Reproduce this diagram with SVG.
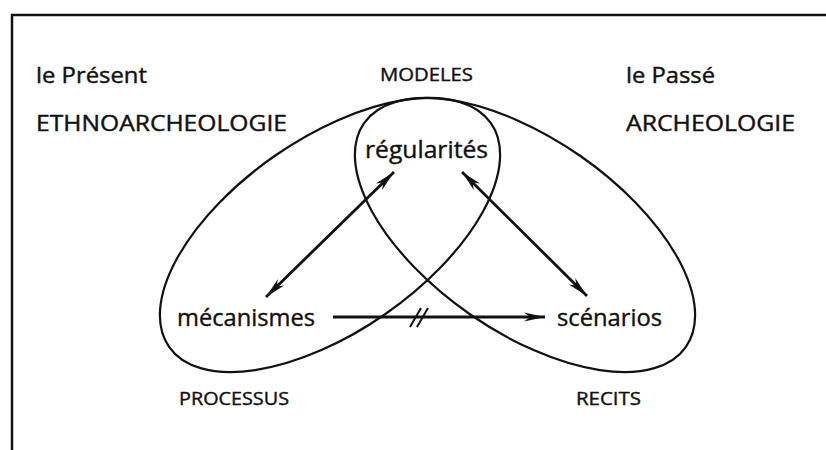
<svg xmlns="http://www.w3.org/2000/svg" width="826" height="450" viewBox="0 0 826 450">
<style>
  text { font-family: "Open Sans", "Noto Sans", sans-serif; fill: #111; stroke: #111; stroke-width: 0.4; }
  .big { font-size: 21px; }
  .node { font-size: 24px; }
  .small { font-size: 18.5px; }
  .ell { fill: none; stroke: #111; stroke-width: 2.2; }
  .arr { fill: none; stroke: #111; stroke-width: 2.8; }
</style>
<defs>
  <marker id="head" viewBox="-22 -5 24 10" refX="0" refY="0" markerWidth="24" markerHeight="10" markerUnits="userSpaceOnUse" orient="auto-start-reverse">
    <path d="M0,0 L-21,-4.5 L-15,0 L-21,4.5 Z" fill="#111"/>
  </marker>
</defs>
<rect x="0" y="0" width="826" height="450" fill="#fff"/>
<rect x="12" y="15" width="830" height="450" fill="none" stroke="#111" stroke-width="2.5"/>
<g id="labels">
  <text class="big" x="36" y="83" textLength="111" lengthAdjust="spacingAndGlyphs">le Présent</text>
  <text class="big" x="36" y="131" textLength="251" lengthAdjust="spacingAndGlyphs">ETHNOARCHEOLOGIE</text>
  <text class="big" x="626" y="83" textLength="89" lengthAdjust="spacingAndGlyphs">le Passé</text>
  <text class="big" x="626" y="131" textLength="169" lengthAdjust="spacingAndGlyphs">ARCHEOLOGIE</text>
  <text class="small" x="380" y="81" textLength="93" lengthAdjust="spacingAndGlyphs">MODELES</text>
  <text class="small" x="179" y="405" textLength="110" lengthAdjust="spacingAndGlyphs">PROCESSUS</text>
  <text class="small" x="576" y="405" textLength="65" lengthAdjust="spacingAndGlyphs">RECITS</text>
</g>
<g id="ellipses">
  <ellipse id="present" class="ell" cx="330" cy="235" rx="196" ry="96.5" transform="rotate(-34.8 330 235)"/>
  <ellipse id="passe" class="ell" cx="525" cy="235" rx="196" ry="96.5" transform="rotate(34.8 525 235)"/>
</g>
<g id="regularites"><text class="node" x="365" y="158" textLength="123" lengthAdjust="spacingAndGlyphs">régularités</text></g>
<g id="mecanismes"><text class="node" x="177" y="326" textLength="138" lengthAdjust="spacingAndGlyphs">mécanismes</text></g>
<g id="scenarios"><text class="node" x="557" y="326" textLength="105" lengthAdjust="spacingAndGlyphs">scénarios</text></g>
<g id="connectors">
  <line class="arr" x1="394" y1="172" x2="266" y2="297" marker-start="url(#head)" marker-end="url(#head)"/>
  <line class="arr" x1="462" y1="172" x2="587" y2="296" marker-start="url(#head)" marker-end="url(#head)"/>
  <line class="arr" x1="333" y1="317" x2="545" y2="317" stroke-width="3.6" marker-end="url(#head)"/>
  <line x1="410" y1="327" x2="421" y2="308" stroke="#111" stroke-width="2"/>
  <line x1="417" y1="327" x2="428" y2="308" stroke="#111" stroke-width="2"/>
</g>
</svg>
